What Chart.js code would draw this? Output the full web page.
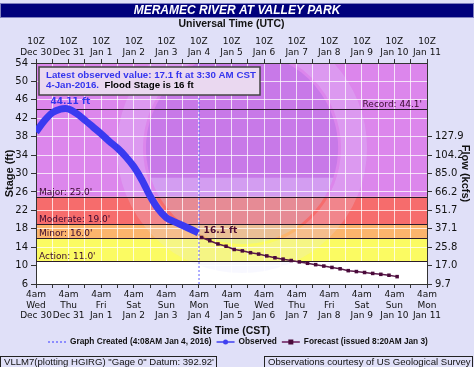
<!DOCTYPE html>
<html>
<head>
<meta charset="utf-8">
<script src="https://cdn.jsdelivr.net/npm/chart.js@4.4.1/dist/chart.umd.min.js"></script>
<style>
  html, body { margin: 0; padding: 0; background: #e0e0f8; }
  #wrap { width: 474px; height: 367px; position: relative; }
</style>
</head>
<body>
<div id="wrap"><canvas id="hydro"></canvas></div>
<script>
// x is measured in days from 4am CST Wed Dec 30 (= 10Z)
const dayNames = ['Wed','Thu','Fri','Sat','Sun','Mon','Tue','Wed','Thu','Fri','Sat','Sun','Mon'];
const dayDates = ['Dec 30','Dec 31','Jan 1','Jan 2','Jan 3','Jan 4','Jan 5','Jan 6','Jan 7','Jan 8','Jan 9','Jan 10','Jan 11'];

const obsDays  = [0, 0.25, 0.5, 0.75, 0.9, 1.0, 1.25, 1.5, 1.75, 2.0, 2.25, 2.5, 2.75, 3.0, 3.25, 3.5, 3.75, 4.0, 4.25, 4.5, 4.75, 4.98];
const obsStage = [39.0, 41.4, 43.2, 44.0, 44.11, 44.0, 43.0, 41.6, 40.1, 38.6, 37.0, 35.5, 33.7, 31.5, 28.6, 25.1, 22.3, 20.4, 19.5, 18.7, 17.9, 17.1];

const fcstStart = 5.083; // 6am Jan 4, then every 6 hours
const fcstStage = [16.1, 15.4, 14.7, 14.2, 13.5, 13.2, 12.8, 12.5, 12.1, 11.7, 11.4, 11.1, 10.8, 10.5, 10.2, 9.9, 9.6, 9.3, 8.9, 8.7, 8.5, 8.3, 8.1, 7.9, 7.6];

const createdDay = 5.003; // 4:08AM Jan 4

const flowAt = [6, 10, 14, 18, 22, 26, 30, 34, 38];
const flowLabels = ['9.7', '17.0', '25.8', '37.1', '51.7', '66.2', '85.0', '104.2', '127.9'];

const floodLevels = [
  { name: 'Action',   value: 11, top: 16,  color: '#fbfb62' },
  { name: 'Minor',    value: 16, top: 19,  color: '#fbb46c' },
  { name: 'Moderate', value: 19, top: 25,  color: '#f66c6c' },
  { name: 'Major',    value: 25, top: 54,  color: '#dc86ec' }
];
const recordStage = 44.1;

const FONT = 'DejaVu Sans';
const TFONT = 'Liberation Sans';

// pick a font size so the text spans about `w` pixels
function fitFont(ctx, text, w, style, family) {
  ctx.font = `${style} 10px ${family}`;
  const size = 10 * w / ctx.measureText(text).width;
  ctx.font = `${style} ${size.toFixed(2)}px ${family}`;
}

const deco = {
  id: 'deco',
  beforeDraw(chart) {
    const { ctx, chartArea: a, scales } = chart;
    const y = scales.y;
    ctx.save();
    ctx.fillStyle = '#e0e0f8';
    ctx.fillRect(0, 0, chart.width, chart.height);
    // title bar
    ctx.fillStyle = '#00007c';
    ctx.fillRect(0, 3, chart.width, 15);
    ctx.strokeStyle = '#8080c0';
    ctx.strokeRect(0.5, 3.5, chart.width - 1, 14);
    ctx.fillStyle = '#fff';
    ctx.font = `italic bold 12px ${TFONT}`;
    ctx.textAlign = 'center';
    ctx.textBaseline = 'middle';
    ctx.fillText('MERAMEC RIVER AT VALLEY PARK', chart.width / 2, 11);
    // plot background + flood bands
    ctx.fillStyle = '#ffffff';
    ctx.fillRect(a.left, a.top, a.width, a.height);
    floodLevels.forEach(l => {
      const y0 = y.getPixelForValue(l.value), y1 = y.getPixelForValue(Math.min(l.top, y.max));
      ctx.fillStyle = l.color;
      ctx.fillRect(a.left, y1, a.width, y0 - y1);
    });
    // faint NOAA watermark
    ctx.beginPath();
    ctx.rect(a.left, a.top, a.width, a.height);
    ctx.clip();
    const cx = 242, cy = 148;
    ctx.strokeStyle = 'rgba(225,225,255,0.22)';
    ctx.lineWidth = 26;
    ctx.beginPath(); ctx.arc(cx, cy, 112, 0, Math.PI * 2); ctx.stroke();
    ctx.fillStyle = 'rgba(120,70,220,0.20)';
    ctx.beginPath(); ctx.arc(cx, cy, 96, Math.PI * 0.9, Math.PI * 2.1); ctx.fill();
    ctx.fillStyle = 'rgba(190,220,255,0.28)';
    ctx.beginPath(); ctx.arc(cx, cy, 96, Math.PI * 0.1, Math.PI * 0.9); ctx.fill();
    ctx.restore();
  },
  beforeDatasetsDraw(chart) {
    const { ctx, chartArea: a, scales } = chart;
    const y = scales.y;
    ctx.save();
    ctx.strokeStyle = '#2a1a2a';
    ctx.lineWidth = 1;
    ctx.fillStyle = '#3a0a30';
    ctx.font = `9px ${FONT}`;
    ctx.textBaseline = 'bottom';
    const lines = floodLevels.map(l => ({ v: l.value, t: `${l.name}: ${l.value.toFixed(1)}'`, right: false }));
    lines.push({ v: recordStage, t: `Record: ${recordStage.toFixed(1)}'`, right: true });
    lines.forEach(l => {
      const py = Math.round(y.getPixelForValue(l.v)) + 0.5;
      ctx.beginPath(); ctx.moveTo(a.left, py); ctx.lineTo(a.right, py); ctx.stroke();
      ctx.textAlign = l.right ? 'right' : 'left';
      ctx.fillText(l.t, l.right ? a.right - 5 : a.left + 3, py);
    });
    ctx.restore();
  },
  afterDatasetsDraw(chart) {
    const { ctx, scales } = chart;
    const x = scales.x, y = scales.y;
    ctx.save();
    ctx.font = `bold 9px ${FONT}`;
    ctx.textAlign = 'center';
    ctx.textBaseline = 'bottom';
    const pk = obsStage.indexOf(Math.max(...obsStage));
    ctx.fillStyle = '#3535ee';
    ctx.fillText(obsStage[pk].toFixed(2) + ' ft', x.getPixelForValue(obsDays[pk]) + 5, y.getPixelForValue(obsStage[pk]) - 2);
    ctx.fillStyle = '#4a0a30';
    ctx.textAlign = 'left';
    ctx.fillText(fcstStage[0].toFixed(1) + ' ft', x.getPixelForValue(fcstStart) + 2, y.getPixelForValue(fcstStage[0]) - 2);
    ctx.restore();
  },
  afterDraw(chart) {
    const { ctx, chartArea: a } = chart;
    ctx.save();
    // axis titles
    ctx.fillStyle = '#111';
    ctx.font = `bold 10.5px ${TFONT}`;
    ctx.textAlign = 'center';
    ctx.textBaseline = 'middle';
    ctx.fillText('Universal Time (UTC)', (a.left + a.right) / 2, 24);
    ctx.fillText('Site Time (CST)', (a.left + a.right) / 2, 331);
    ctx.save();
    ctx.translate(10, (a.top + a.bottom) / 2);
    ctx.rotate(-Math.PI / 2);
    ctx.font = `bold 11px ${TFONT}`;
    ctx.fillText('Stage (ft)', 0, 0);
    ctx.restore();
    ctx.save();
    ctx.translate(465, (a.top + a.bottom) / 2);
    ctx.rotate(Math.PI / 2);
    ctx.font = `bold 11px ${TFONT}`;
    ctx.fillText('Flow (kcfs)', 0, 0);
    ctx.restore();

    // latest observed box
    ctx.fillStyle = '#ead8f0';
    ctx.fillRect(39, 67, 221, 28);
    ctx.strokeStyle = '#444';
    ctx.lineWidth = 1.5;
    ctx.strokeRect(39, 67, 221, 28);
    const line1 = 'Latest observed value: 17.1 ft at 3:30 AM CST';
    fitFont(ctx, line1, 210, 'bold', TFONT);
    ctx.textAlign = 'left';
    ctx.textBaseline = 'middle';
    ctx.fillStyle = '#3535ee';
    ctx.fillText(line1, 46, 75.5);
    ctx.fillText('4-Jan-2016.', 46, 85.5);
    const w1 = ctx.measureText('4-Jan-2016.  ').width;
    ctx.fillStyle = '#000';
    ctx.fillText('Flood Stage is 16 ft', 46 + w1, 85.5);

    // legend
    ctx.font = `bold 8.3px ${TFONT}`;
    const ly = 342;
    const items = [
      { t: 'Graph Created (4:08AM Jan 4, 2016)', kind: 'dash' },
      { t: 'Observed', kind: 'obs' },
      { t: 'Forecast (issued 8:20AM Jan 3)', kind: 'fcst' }
    ];
    const sw = 18, gap = 4, sep = 5;
    items.forEach(it => { it.w = ctx.measureText(it.t).width; });
    let lx = 48;
    items.forEach(it => {
      ctx.lineWidth = 1.5;
      if (it.kind === 'dash') {
        ctx.strokeStyle = '#7070ff'; ctx.setLineDash([2, 2]);
      } else if (it.kind === 'obs') {
        ctx.strokeStyle = '#4040f0'; ctx.setLineDash([]);
      } else {
        ctx.strokeStyle = '#6a1a5a'; ctx.setLineDash([]);
      }
      ctx.beginPath(); ctx.moveTo(lx, ly); ctx.lineTo(lx + sw, ly); ctx.stroke();
      ctx.setLineDash([]);
      if (it.kind === 'obs') {
        ctx.fillStyle = '#4040f0';
        ctx.beginPath(); ctx.arc(lx + sw / 2, ly, 2.5, 0, Math.PI * 2); ctx.fill();
      } else if (it.kind === 'fcst') {
        ctx.fillStyle = '#4a0a3a';
        ctx.fillRect(lx + sw / 2 - 2.5, ly - 2.5, 5, 5);
      }
      ctx.fillStyle = '#111';
      ctx.fillText(it.t, lx + sw + gap, ly);
      lx += sw + gap + it.w + sep;
    });

    // footer boxes
    ctx.strokeStyle = '#222';
    ctx.lineWidth = 1;
    ctx.strokeRect(0.5, 356.5, 216, 16);
    ctx.strokeRect(264.5, 356.5, 208, 16);
    ctx.fillStyle = '#111';
    ctx.textBaseline = 'middle';
    const f1 = 'VLLM7(plotting HGIRG) "Gage 0" Datum: 392.92\'';
    const f2 = 'Observations courtesy of US Geological Survey';
    fitFont(ctx, f1, 210, '', TFONT);
    ctx.fillText(f1, 4, 362.5);
    fitFont(ctx, f2, 203, '', TFONT);
    ctx.fillText(f2, 268, 362.5);
    ctx.restore();
  }
};

const tickFont = { family: FONT, size: 9, lineHeight: 1.2 };
const dark = '#333';
const gridCol = 'rgba(255,255,255,0.75)';

new Chart(document.getElementById('hydro'), {
  type: 'line',
  data: {
    datasets: [
      {
        label: 'Graph Created',
        data: [{ x: createdDay, y: 6 }, { x: createdDay, y: 54 }],
        borderColor: '#6060ff',
        borderWidth: 1,
        borderDash: [2, 2],
        pointRadius: 0,
        order: 3
      },
      {
        label: 'Observed',
        data: obsDays.map((d, i) => ({ x: d, y: obsStage[i] })),
        borderColor: '#3a3af0',
        borderWidth: 7,
        cubicInterpolationMode: 'monotone',
        pointRadius: 0,
        order: 2
      },
      {
        label: 'Forecast',
        data: fcstStage.map((v, i) => ({ x: fcstStart + i * 0.25, y: v })),
        borderColor: '#5a1a4a',
        backgroundColor: '#4a0a3a',
        borderWidth: 1.5,
        pointStyle: 'rect',
        pointRadius: 2.5,
        pointBorderWidth: 0,
        order: 1
      }
    ]
  },
  options: {
    responsive: true,
    maintainAspectRatio: false,
    animation: false,
    layout: { padding: 0 },
    plugins: { legend: { display: false }, tooltip: { enabled: false } },
    scales: {
      x: {
        type: 'linear', position: 'bottom', min: 0, max: 12,
        afterFit: s => { s.height = 83; },
        border: { display: true, color: dark, width: 1 },
        grid: { color: gridCol, tickColor: dark, tickLength: 4 },
        ticks: {
          stepSize: 0.5, autoSkip: false, maxRotation: 0, padding: 1,
          color: '#111', font: tickFont,
          callback: v => Number.isInteger(v) ? ['4am', dayNames[v], dayDates[v]] : ''
        }
      },
      x2: {
        type: 'linear', position: 'top', min: 0, max: 12,
        afterFit: s => { s.height = 63; },
        border: { display: true, color: dark, width: 1 },
        grid: { drawOnChartArea: false, tickColor: dark, tickLength: 4 },
        ticks: {
          stepSize: 0.5, autoSkip: false, maxRotation: 0, padding: 1,
          color: '#111', font: tickFont,
          callback: v => Number.isInteger(v) ? ['10Z', dayDates[v]] : ''
        }
      },
      y: {
        type: 'linear', position: 'left', min: 6, max: 54,
        afterFit: s => { s.width = 36; },
        border: { display: true, color: dark, width: 1 },
        grid: {
          color: gridCol, tickLength: 5,
          tickColor: c => ((c.tick.value - 6) % 4 === 0 ? dark : 'rgba(0,0,0,0)')
        },
        ticks: {
          stepSize: 2, padding: 3, color: '#111', font: { family: FONT, size: 10 },
          callback: v => ((v - 6) % 4 === 0 ? String(v) : '')
        }
      },
      y2: {
        type: 'linear', position: 'right', min: 6, max: 54,
        afterFit: s => { s.width = 47; },
        border: { display: true, color: dark, width: 1 },
        grid: {
          drawOnChartArea: false, tickLength: 5,
          tickColor: c => (flowAt.includes(c.tick.value) ? dark : 'rgba(0,0,0,0)')
        },
        ticks: {
          stepSize: 2, padding: 3, color: '#111', font: { family: FONT, size: 10 },
          callback: v => { const i = flowAt.indexOf(v); return i >= 0 ? flowLabels[i] : ''; }
        }
      }
    }
  },
  plugins: [deco]
});
</script>
</body>
</html>
